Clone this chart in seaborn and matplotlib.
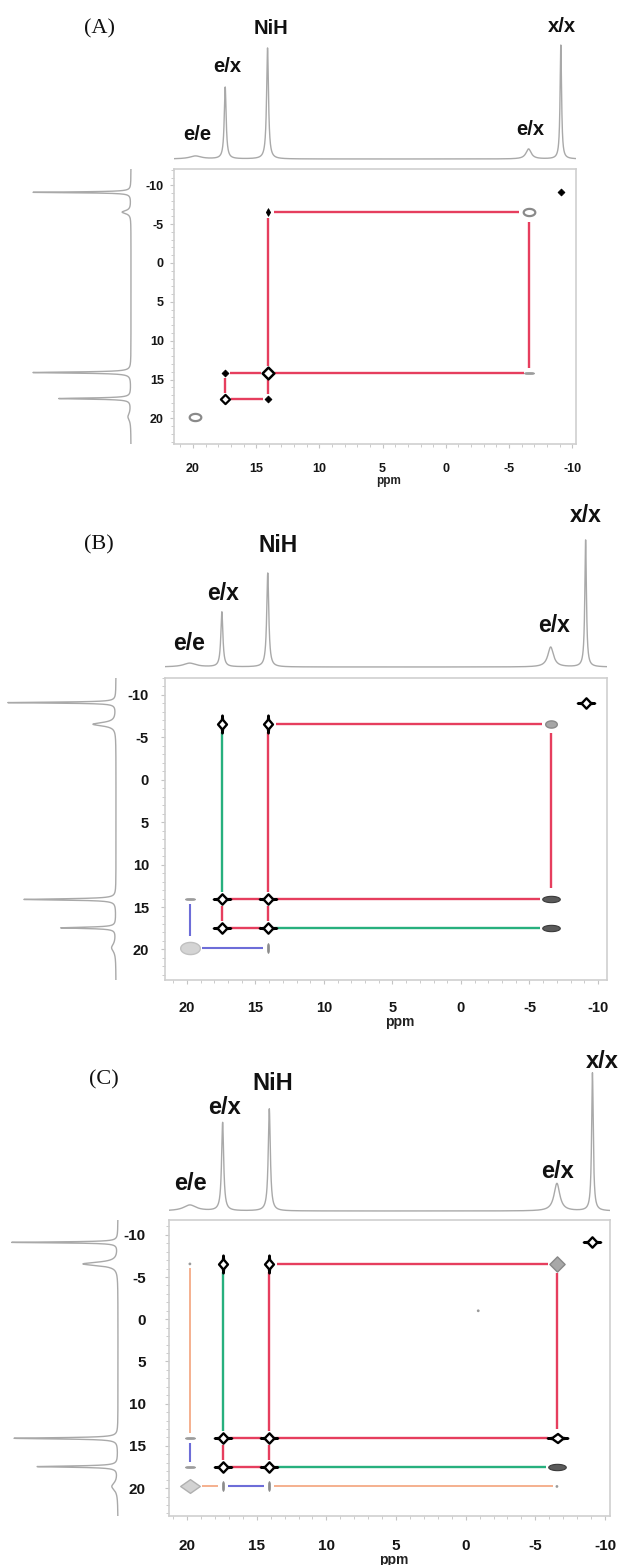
import numpy as np
import pandas as pd
import matplotlib
matplotlib.use("Agg")
import matplotlib.pyplot as plt
from matplotlib.path import Path
from matplotlib.ticker import MultipleLocator
import seaborn as sns

# ---------------- data ----------------
site_labels = ["e/e", "e/x", "NiH", "e/x", "x/x"]
site_shifts = [19.8, 17.45, 14.1, -6.55, -9.1]      # ppm
site_hwhm = [0.55, 0.09, 0.09, 0.25, 0.07]          # ppm

# relative 1D projection intensities (top = F2, left = F1)
top_A = [0.026, 0.63, 0.974, 0.088, 1.0]
left_A = [0.03, 0.735, 1.0, 0.09, 1.0]
top_B = [0.03, 0.433, 0.74, 0.157, 1.0]
left_B = [0.04, 0.51, 0.852, 0.213, 1.0]
top_C = [0.043, 0.64, 0.74, 0.20, 1.0]
left_C = [0.057, 0.76, 0.98, 0.33, 1.0]

# 2D peaks: (F2 site, F1 site, appearance class)
xpeaks_A = [(4, 4, "small"), (3, 3, "ring"), (2, 3, "small_v"), (2, 2, "strong_a"),
            (3, 2, "weak_h"), (1, 2, "small"), (1, 1, "strong_s"), (2, 1, "small"),
            (0, 0, "ring")]
xpeaks_B = [(4, 4, "strong"), (3, 3, "gray"), (2, 3, "strong_v"), (1, 3, "strong_v"),
            (2, 2, "strong"), (1, 2, "strong"), (3, 2, "dark"), (1, 1, "strong"),
            (2, 1, "strong"), (3, 1, "dark"), (0, 0, "broad_e"), (0, 2, "weak_h"),
            (2, 0, "weak_v")]
xpeaks_C = [(4, 4, "strong"), (3, 3, "gray_d"), (2, 3, "strong_v"), (1, 3, "strong_v"),
            (2, 2, "strong"), (1, 2, "strong"), (3, 2, "strong_h"), (1, 1, "strong"),
            (2, 1, "strong"), (3, 1, "dark"), (0, 0, "broad"), (0, 2, "weak_h"),
            (0, 1, "weak_h"), (1, 0, "weak_v"), (2, 0, "weak_v"), (3, 0, "trace"),
            (0, 3, "trace")]
artifacts_C = [(-0.9, -1.0)]

# exchange pathways: (pathway, (F2,F1) start, (F2,F1) end)
links_core = [("red", (2, 3), (3, 3)), ("red", (2, 3), (2, 2)), ("red", (3, 3), (3, 2)),
              ("red", (2, 2), (3, 2)), ("red", (1, 2), (2, 2)), ("red", (1, 2), (1, 1)),
              ("red", (1, 1), (2, 1)), ("red", (2, 2), (2, 1))]
links_A = links_core
links_B = links_core + [("green", (1, 3), (1, 2)), ("green", (2, 1), (3, 1)),
                        ("blue", (0, 2), (0, 0)), ("blue", (0, 0), (2, 0))]
links_C = links_core + [("green", (1, 3), (1, 2)), ("green", (2, 1), (3, 1)),
                        ("orange", (0, 3), (0, 2)), ("orange", (0, 0), (1, 0)),
                        ("orange", (2, 0), (3, 0)), ("blue", (0, 2), (0, 1)),
                        ("blue", (1, 0), (2, 0))]

x_ticks = [20, 15, 10, 5, 0, -5, -10]
y_ticks = [-10, -5, 0, 5, 10, 15, 20]
x_tick_labels = ["20", "15", "10", "5", "0", "-5", "-10"]
y_tick_labels = ["-10", "-5", "0", "5", "10", "15", "20"]
panel_names = ["(A)", "(B)", "(C)"]

# ---------------- styling / layout ----------------
sns.set_theme(style="white")
plt.rcParams['font.family'] = ['Liberation Sans', 'DejaVu Sans']

W, H = 618, 1565
fig = plt.figure(figsize=(W / 100, H / 100), dpi=100)


def px_axes(x0, y0, x1, y1):
    return fig.add_axes([x0 / W, 1 - y1 / H, (x1 - x0) / W, (y1 - y0) / H])


def ellipse(a, b, n=40):
    t = np.linspace(0, 2 * np.pi, n)
    v = np.column_stack([a * np.cos(t), b * np.sin(t)])
    return Path(v, closed=True)


def poly(pts):
    pts = list(pts) + [pts[0]]
    return Path(pts, closed=True)


star_h = poly([(1, 0), (0.5, 0.07), (0, 0.6), (-0.5, 0.07), (-1, 0),
               (-0.5, -0.07), (0, -0.6), (0.5, -0.07)])
star_v = poly([(0, 1), (0.07, 0.5), (0.5, 0), (0.07, -0.5), (0, -1),
               (-0.07, -0.5), (-0.5, 0), (-0.07, 0.5)])
star_hh = poly([(1, 0), (0.5, 0.06), (0.05, 0.42), (-0.45, 0.06), (-0.9, 0),
                (-0.45, -0.06), (0.05, -0.42), (0.5, -0.06)])
diamond_v = poly([(0, 1), (0.55, 0), (0, -1), (-0.55, 0)])
diamond_wide = poly([(1, 0), (0, 0.7), (-1, 0), (0, -0.7)])
ell_h = ellipse(1.0, 0.62)
ell_flat = ellipse(1.0, 0.36)
dash_h = ellipse(1.0, 0.22)
dash_v = ellipse(0.22, 1.0)

peak_style = {
    "strong":   dict(marker=star_h, s=155, color="white", edgecolor="black", linewidth=1.7),
    "strong_a": dict(marker="D", s=36, color="white", edgecolor="black", linewidth=1.8),
    "strong_s": dict(marker="D", s=22, color="white", edgecolor="black", linewidth=1.6),
    "strong_v": dict(marker=star_v, s=165, color="white", edgecolor="black", linewidth=1.7),
    "strong_h": dict(marker=star_hh, s=240, color="white", edgecolor="black", linewidth=1.7),
    "small":    dict(marker="D", s=12, color="black", edgecolor="black", linewidth=0.6),
    "small_v":  dict(marker=diamond_v, s=30, color="black", edgecolor="black", linewidth=0.6),
    "ring":     dict(marker=ell_h, s=70, color="white", edgecolor="#8a8a8a", linewidth=1.6),
    "gray":     dict(marker=ell_h, s=70, color="#a6a6a6", edgecolor="#8a8a8a", linewidth=1.0),
    "gray_d":   dict(marker="D", s=60, color="#a8a8a8", edgecolor="#888888", linewidth=1.0),
    "dark":     dict(marker=ell_flat, s=160, color="#5a5a5a", edgecolor="#3a3a3a", linewidth=0.8),
    "broad":    dict(marker=diamond_wide, s=200, color="#d2d2d2", edgecolor="#b0b0b0", linewidth=1.0),
    "broad_e":  dict(marker=ell_h, s=200, color="#d4d4d4", edgecolor="#c0c0c0", linewidth=1.0),
    "weak_h":   dict(marker=dash_h, s=55, color="#9c9c9c", edgecolor="#9c9c9c", linewidth=0.5),
    "weak_v":   dict(marker=dash_v, s=50, color="#8c8c8c", edgecolor="#8c8c8c", linewidth=0.5),
    "trace":    dict(marker="o", s=4, color="#9a9a9a", edgecolor="none", linewidth=0),
}
peak_gap = {"strong": 7, "strong_a": 7, "strong_s": 6, "strong_v": 8, "strong_h": 9,
            "small": 5, "small_v": 6, "ring": 10, "gray": 9, "gray_d": 9, "dark": 11,
            "broad": 12, "broad_e": 12, "weak_h": 5, "weak_v": 5, "trace": 4, None: 4}
link_color = {"red": "#e63e5e", "green": "#27b07e", "blue": "#6d6dd8", "orange": "#f3a37b"}
link_width = {"red": 1.7, "green": 1.7, "blue": 1.5, "orange": 1.2}
spec_color = "#a9a9a9"

layout = [
    dict(box=(174, 169, 576, 444), xlim=(21.5, -10.3), ylim=(23.3, -12.1),
         top_base=159, top_px=114, left_base=131, left_px=98, letter=(99, 29),
         lab_fs=14.5, tick_fs=9, ppm_fs=8.5, ppm_xy=(389, 481), ypad=4.3, xpad=10.8,
         lab_off=[(2, 22), (2, 21), (3, 19), (2, 19), (1, 18)]),
    dict(box=(165, 678, 607, 980), xlim=(21.6, -10.66), ylim=(23.6, -12.0),
         top_base=667, top_px=127, left_base=116, left_px=108, letter=(98.5, 545),
         lab_fs=16.5, tick_fs=10.5, ppm_fs=10, ppm_xy=(400, 1022), ypad=8.6, xpad=12,
         lab_off=[(-1, 20), (1, 19), (10, 28), (3, 22), (0, 24)]),
    dict(box=(169, 1220, 610, 1516), xlim=(21.3, -10.36), ylim=(23.3, -11.75),
         top_base=1211, top_px=138, left_base=118, left_px=106, letter=(104, 1080),
         lab_fs=17, tick_fs=11, ppm_fs=10, ppm_xy=(394, 1560), ypad=13.7, xpad=13.3,
         lab_off=[(1, 22), (1.5, 15), (3, 25), (1, 12), (10, 11)]),
]

panels = [(top_A, left_A, xpeaks_A, links_A, []),
          (top_B, left_B, xpeaks_B, links_B, []),
          (top_C, left_C, xpeaks_C, links_C, artifacts_C)]


def lorentz_sum(grid, heights):
    y = np.zeros_like(grid)
    for s, w, h in zip(site_shifts, site_hwhm, heights):
        y += h * w ** 2 / ((grid - s) ** 2 + w ** 2)
    return y


for name, L, (top_i, left_i, xpk, links, arts) in zip(panel_names, layout, panels):
    bx0, by0, bx1, by1 = L["box"]
    sx = (bx1 - bx0) / abs(L["xlim"][0] - L["xlim"][1])   # px per ppm
    sy = (by1 - by0) / abs(L["ylim"][0] - L["ylim"][1])

    # ---- 2D map ----
    ax = px_axes(bx0, by0, bx1, by1)
    ax.set_facecolor("white")
    ax.set_xlim(*L["xlim"])
    ax.set_ylim(*L["ylim"])
    for sp in ax.spines.values():
        sp.set_color("#cfcfcf")
        sp.set_linewidth(1.2)
    ax.set_xticks(x_ticks)
    ax.set_xticklabels(x_tick_labels, fontsize=L["tick_fs"], fontweight="bold", color="#151515")
    ax.set_yticks(y_ticks)
    ax.set_yticklabels(y_tick_labels, fontsize=L["tick_fs"], fontweight="bold", color="#151515")
    ax.xaxis.set_minor_locator(MultipleLocator(1))
    ax.yaxis.set_minor_locator(MultipleLocator(1))
    ax.tick_params(which="both", bottom=True, left=True, top=False, right=False,
                   direction="out", color="#c4c4c4")
    ax.tick_params(which="major", length=3, width=0.8)
    ax.tick_params(which="minor", length=2, width=0.6)
    ax.tick_params(axis="x", which="major", pad=L["xpad"])
    ax.tick_params(axis="y", which="major", pad=L["ypad"])
    ax.grid(False)
    fx = (L["ppm_xy"][0] - bx0) / (bx1 - bx0)
    fy = 1 - (L["ppm_xy"][1] - by0) / (by1 - by0)
    ax.text(fx, fy, "ppm", transform=ax.transAxes, ha="center", va="center",
            fontsize=L["ppm_fs"], fontweight="bold", color="#222222")

    kinds = {(c, r): k for c, r, k in xpk}

    # exchange pathway lines
    for path_name, p1, p2 in links:
        x1, y1 = site_shifts[p1[0]], site_shifts[p1[1]]
        x2, y2 = site_shifts[p2[0]], site_shifts[p2[1]]
        g1 = peak_gap[kinds.get(p1)]
        g2 = peak_gap[kinds.get(p2)]
        if p1[1] == p2[1]:   # horizontal (same F1 row)
            d = np.sign(x2 - x1)
            xs = [x1 + d * g1 / sx, x2 - d * g2 / sx]
            ys = [y1, y2]
        else:                # vertical (same F2 column)
            d = np.sign(y2 - y1)
            xs = [x1, x2]
            ys = [y1 + d * g1 / sy, y2 - d * g2 / sy]
        ax.plot(xs, ys, color=link_color[path_name], lw=link_width[path_name],
                solid_capstyle="butt", zorder=2)

    # cross / diagonal peaks
    df = pd.DataFrame(xpk, columns=["f2", "f1", "kind"])
    df["x"] = [site_shifts[i] for i in df["f2"]]
    df["y"] = [site_shifts[i] for i in df["f1"]]
    for kind, sub in df.groupby("kind"):
        st = peak_style[kind]
        sns.scatterplot(data=sub, x="x", y="y", ax=ax, legend=False, zorder=4, **st)
    if arts:
        adf = pd.DataFrame(arts, columns=["x", "y"])
        sns.scatterplot(data=adf, x="x", y="y", ax=ax, legend=False, zorder=4,
                        **peak_style["trace"])
    ax.set_xlabel("")
    ax.set_ylabel("")

    # ---- top 1D spectrum ----
    tp = L["top_px"]
    axt = px_axes(bx0, L["top_base"] - tp - 2, bx1, L["top_base"] + 2)
    grid = np.linspace(L["xlim"][0], L["xlim"][1], 5000)
    sns.lineplot(x=grid, y=lorentz_sum(grid, top_i), ax=axt, color=spec_color,
                 linewidth=1.0, estimator=None, sort=False, legend=False)
    axt.set_xlim(*L["xlim"])
    axt.set_ylim(-2 / tp, 1 + 2 / tp)
    axt.axis("off")
    for i, lab in enumerate(site_labels):
        dx, dy = L["lab_off"][i]
        axt.annotate(lab, xy=(site_shifts[i], top_i[i]), xytext=(dx * 0.72, dy * 0.72),
                     textcoords="offset points", ha="center", va="center",
                     fontsize=L["lab_fs"], fontweight="bold", color="#111111",
                     annotation_clip=False)

    # ---- left 1D spectrum ----
    lp = L["left_px"]
    axl = px_axes(L["left_base"] - lp - 2, by0, L["left_base"] + 2, by1)
    gy = np.linspace(L["ylim"][1], L["ylim"][0], 5000)
    sns.lineplot(x=lorentz_sum(gy, left_i), y=gy, ax=axl, color=spec_color,
                 linewidth=1.0, estimator=None, sort=False, legend=False, orient="y")
    axl.set_xlim(1 + 2 / lp, -2 / lp)
    axl.set_ylim(*L["ylim"])
    axl.axis("off")

    # panel letter
    fig.text(L["letter"][0] / W, 1 - L["letter"][1] / H, name, ha="center", va="center",
             fontsize=16, family=["Liberation Serif", "DejaVu Serif"], color="#111111")

fig.savefig("out.png", dpi=100, facecolor="white")
